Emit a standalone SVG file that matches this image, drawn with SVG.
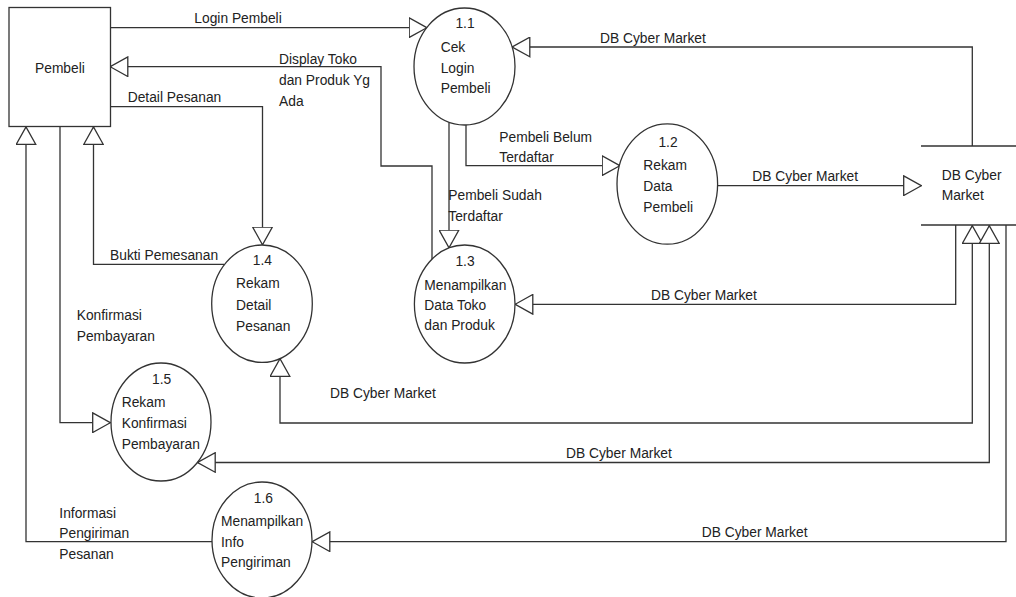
<svg xmlns="http://www.w3.org/2000/svg" width="1016" height="597" viewBox="0 0 1016 597">
<style>
text{font-family:"Liberation Sans",Arial,sans-serif;font-size:13.8px;fill:#222}
.c{text-anchor:middle}
.shape{fill:#fff;stroke:#333;stroke-width:1.3}
.flow{fill:none;stroke:#333;stroke-width:1.3}
</style>
<defs>
<marker id="arr" viewBox="0 0 19 21" refX="18.5" refY="10.5" markerWidth="19" markerHeight="21" markerUnits="userSpaceOnUse" orient="auto-start-reverse">
<path d="M0.7,0.7 L18.3,10.5 L0.7,20.3 Z" fill="#fff" stroke="#333" stroke-width="1.3"/>
</marker>
</defs>
<rect width="1016" height="597" fill="#fff"/>

<g id="connectors">
<path class="flow" d="M110,27.7 L427,27.7" marker-end="url(#arr)"/>
<path class="flow" d="M432,259 L432,166 L381,166 L381,66.7 L110,66.7" marker-end="url(#arr)"/>
<path class="flow" d="M110,106.7 L262.5,106.7 L262.5,245" marker-end="url(#arr)"/>
<path class="flow" d="M224,264.3 L93.5,264.3 L93.5,126.7" marker-end="url(#arr)"/>
<path class="flow" d="M60,126.7 L60,422.7 L110.5,422.7" marker-end="url(#arr)"/>
<path class="flow" d="M212,541.7 L26,541.7 L26,126.7" marker-end="url(#arr)"/>
<path class="flow" d="M972.3,146 L972.3,47 L512,47" marker-end="url(#arr)"/>
<path class="flow" d="M466,124.5 L466,165.7 L620,165.7" marker-end="url(#arr)"/>
<path class="flow" d="M449,122.5 L449,248" marker-end="url(#arr)"/>
<path class="flow" d="M718,185.7 L921.5,185.7" marker-end="url(#arr)"/>
<path class="flow" d="M955.7,225 L955.7,304.3 L515,304.3" marker-end="url(#arr)"/>
<path class="flow" d="M972.3,225.5 L972.3,423 L280,423 L280,358.5" marker-start="url(#arr)" marker-end="url(#arr)"/>
<path class="flow" d="M989.3,225.5 L989.3,462.5 L197.4,462.5" marker-start="url(#arr)" marker-end="url(#arr)"/>
<path class="flow" d="M1006,225 L1006,541.7 L312,541.7" marker-end="url(#arr)"/>
<text x="194.3" y="22.5">Login Pembeli</text>
<text x="279" y="63.5">Display Toko</text>
<text x="279" y="85">dan Produk Yg</text>
<text x="279" y="106">Ada</text>
<text x="127.7" y="101.7">Detail Pesanan</text>
<text x="110" y="260">Bukti Pemesanan</text>
<text x="76.7" y="320">Konfirmasi</text>
<text x="76.7" y="340.7">Pembayaran</text>
<text x="59.3" y="517.7">Informasi</text>
<text x="59.3" y="538.3">Pengiriman</text>
<text x="59.3" y="559">Pesanan</text>
<text x="600" y="43.3">DB Cyber Market</text>
<text x="499.3" y="141.7">Pembeli Belum</text>
<text x="499.3" y="162">Terdaftar</text>
<text x="448.3" y="200">Pembeli Sudah</text>
<text x="448.3" y="220.7">Terdaftar</text>
<text x="752.3" y="181">DB Cyber Market</text>
<text x="651" y="300">DB Cyber Market</text>
<text x="330" y="398.3">DB Cyber Market</text>
<text x="566" y="458.3">DB Cyber Market</text>
<text x="701.7" y="536.7">DB Cyber Market</text>
</g>

<g id="pembeli">
<rect class="shape" x="9" y="7.5" width="101.5" height="119"/>
<text x="35" y="72.7">Pembeli</text>
</g>

<g id="p1_1">
<ellipse class="shape" cx="464.5" cy="66.5" rx="50.5" ry="58.5"/>
<text class="c" x="465" y="28.3">1.1</text>
<text x="440.7" y="52">Cek</text>
<text x="440.7" y="72.5">Login</text>
<text x="440.7" y="93">Pembeli</text>
</g>

<g id="p1_2">
<ellipse class="shape" cx="667.3" cy="184" rx="50.3" ry="60.2"/>
<text class="c" x="668" y="146.7">1.2</text>
<text x="643.3" y="170">Rekam</text>
<text x="643.3" y="191">Data</text>
<text x="643.3" y="211.7">Pembeli</text>
</g>

<g id="p1_3">
<ellipse class="shape" cx="464.7" cy="304" rx="50.3" ry="59"/>
<text class="c" x="465" y="266">1.3</text>
<text x="424.3" y="290">Menampilkan</text>
<text x="424.3" y="310">Data Toko</text>
<text x="424.3" y="330">dan Produk</text>
</g>

<g id="p1_4">
<ellipse class="shape" cx="262" cy="303.7" rx="50.3" ry="58.7"/>
<text class="c" x="262.3" y="265">1.4</text>
<text x="236" y="288.3">Rekam</text>
<text x="236" y="310">Detail</text>
<text x="236" y="330.7">Pesanan</text>
</g>

<g id="p1_5">
<ellipse class="shape" cx="161" cy="422" rx="50" ry="59"/>
<text class="c" x="161.7" y="384">1.5</text>
<text x="121.7" y="407.3">Rekam</text>
<text x="121.7" y="428">Konfirmasi</text>
<text x="121.7" y="449">Pembayaran</text>
</g>

<g id="p1_6">
<ellipse class="shape" cx="262" cy="540" rx="50" ry="58"/>
<text class="c" x="263.3" y="503.3">1.6</text>
<text x="221" y="526">Menampilkan</text>
<text x="221" y="546.7">Info</text>
<text x="221" y="567">Pengiriman</text>
</g>

<g id="db_cyber_market">
<path class="flow" d="M921,146 L1016,146 M921,225 L1016,225"/>
<text x="941.7" y="180">DB Cyber</text>
<text x="941.7" y="200">Market</text>
</g>
</svg>
